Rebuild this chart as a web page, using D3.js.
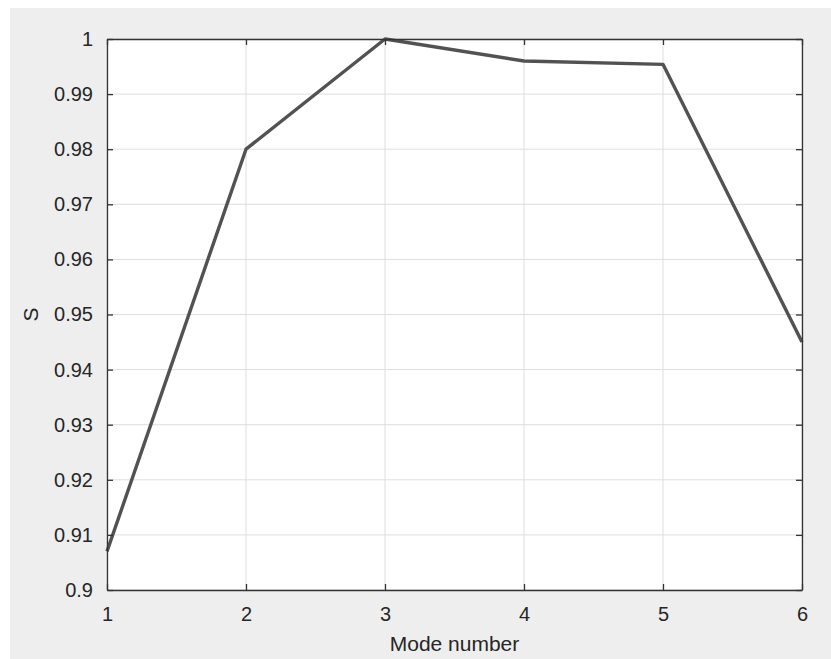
<!DOCTYPE html>
<html>
<head>
<meta charset="utf-8">
<script src="https://cdn.jsdelivr.net/npm/d3@7"></script>
<style>
  body { margin: 0; background: #fff; }
  text { font-family: "Liberation Sans", Arial, sans-serif; fill: #262626; }
</style>
</head>
<body>
<script>
const width = 831;
const height = 659;

// data
const modes = [1, 2, 3, 4, 5, 6];
const sValues = [0.907, 0.98, 1.0, 0.996, 0.9954, 0.945];
const xTicks = [1, 2, 3, 4, 5, 6];
const yTicks = [0.9, 0.91, 0.92, 0.93, 0.94, 0.95, 0.96, 0.97, 0.98, 0.99, 1];

const plot = {left: 107, right: 802, top: 39, bottom: 590};
const tickLen = 6;

const svg = d3.select("body").append("svg")
    .attr("width", width)
    .attr("height", height);

// figure background
svg.append("rect")
    .attr("x", 10).attr("y", 8)
    .attr("width", width - 10).attr("height", height - 8)
    .attr("fill", "#eeeeee");

const x = d3.scaleLinear().domain([1, 6]).range([plot.left, plot.right]);
const y = d3.scaleLinear().domain([0.9, 1]).range([plot.bottom, plot.top]);

svg.append("rect")
    .attr("x", plot.left).attr("y", plot.top)
    .attr("width", plot.right - plot.left).attr("height", plot.bottom - plot.top)
    .attr("fill", "#fff");

// grid
svg.append("g").selectAll("line.vgrid")
    .data(xTicks)
    .join("line")
    .attr("x1", d => x(d)).attr("x2", d => x(d))
    .attr("y1", plot.top).attr("y2", plot.bottom)
    .attr("stroke", "#dedede").attr("stroke-width", 1);
svg.append("g").selectAll("line.hgrid")
    .data(yTicks)
    .join("line")
    .attr("x1", plot.left).attr("x2", plot.right)
    .attr("y1", d => y(d)).attr("y2", d => y(d))
    .attr("stroke", "#dedede").attr("stroke-width", 1);

// data line
const line = d3.line()
    .x((d, i) => x(modes[i]))
    .y(d => y(d));
svg.append("path")
    .datum(sValues)
    .attr("d", line)
    .attr("fill", "none")
    .attr("stroke", "#525252")
    .attr("stroke-width", 3.4)
    .attr("stroke-linejoin", "round");

// axes (matlab-style box with inward ticks on all sides)
const fmt = d => String(+d.toFixed(2));
const axisStyle = g => {
    g.select(".domain").attr("stroke", "#333").attr("stroke-width", 1.3);
    g.selectAll(".tick line").attr("stroke", "#333").attr("stroke-width", 1.3);
    g.selectAll(".tick text").attr("font-size", 20).attr("fill", "#333");
};

svg.append("g")
    .attr("transform", `translate(0,${plot.bottom})`)
    .call(d3.axisBottom(x).tickValues(xTicks).tickSizeInner(-tickLen).tickSizeOuter(0).tickPadding(17).tickFormat(fmt))
    .call(axisStyle);
svg.append("g")
    .attr("transform", `translate(0,${plot.top})`)
    .call(d3.axisTop(x).tickValues(xTicks).tickSizeInner(-tickLen).tickSizeOuter(0).tickFormat(""))
    .call(axisStyle);
svg.append("g")
    .attr("transform", `translate(${plot.left},0)`)
    .call(d3.axisLeft(y).tickValues(yTicks).tickSizeInner(-tickLen).tickSizeOuter(0).tickPadding(14).tickFormat(fmt))
    .call(axisStyle);
svg.append("g")
    .attr("transform", `translate(${plot.right},0)`)
    .call(d3.axisRight(y).tickValues(yTicks).tickSizeInner(-tickLen).tickSizeOuter(0).tickFormat(""))
    .call(axisStyle);

// axis titles
svg.append("text")
    .attr("x", (plot.left + plot.right) / 2)
    .attr("y", 651)
    .attr("text-anchor", "middle")
    .attr("font-size", 21)
    .attr("fill", "#333")
    .text("Mode number");

svg.append("text")
    .attr("transform", `translate(38,${(plot.top + plot.bottom) / 2}) rotate(-90)`)
    .attr("text-anchor", "middle")
    .attr("font-size", 21)
    .attr("fill", "#333")
    .text("S");
</script>
</body>
</html>
